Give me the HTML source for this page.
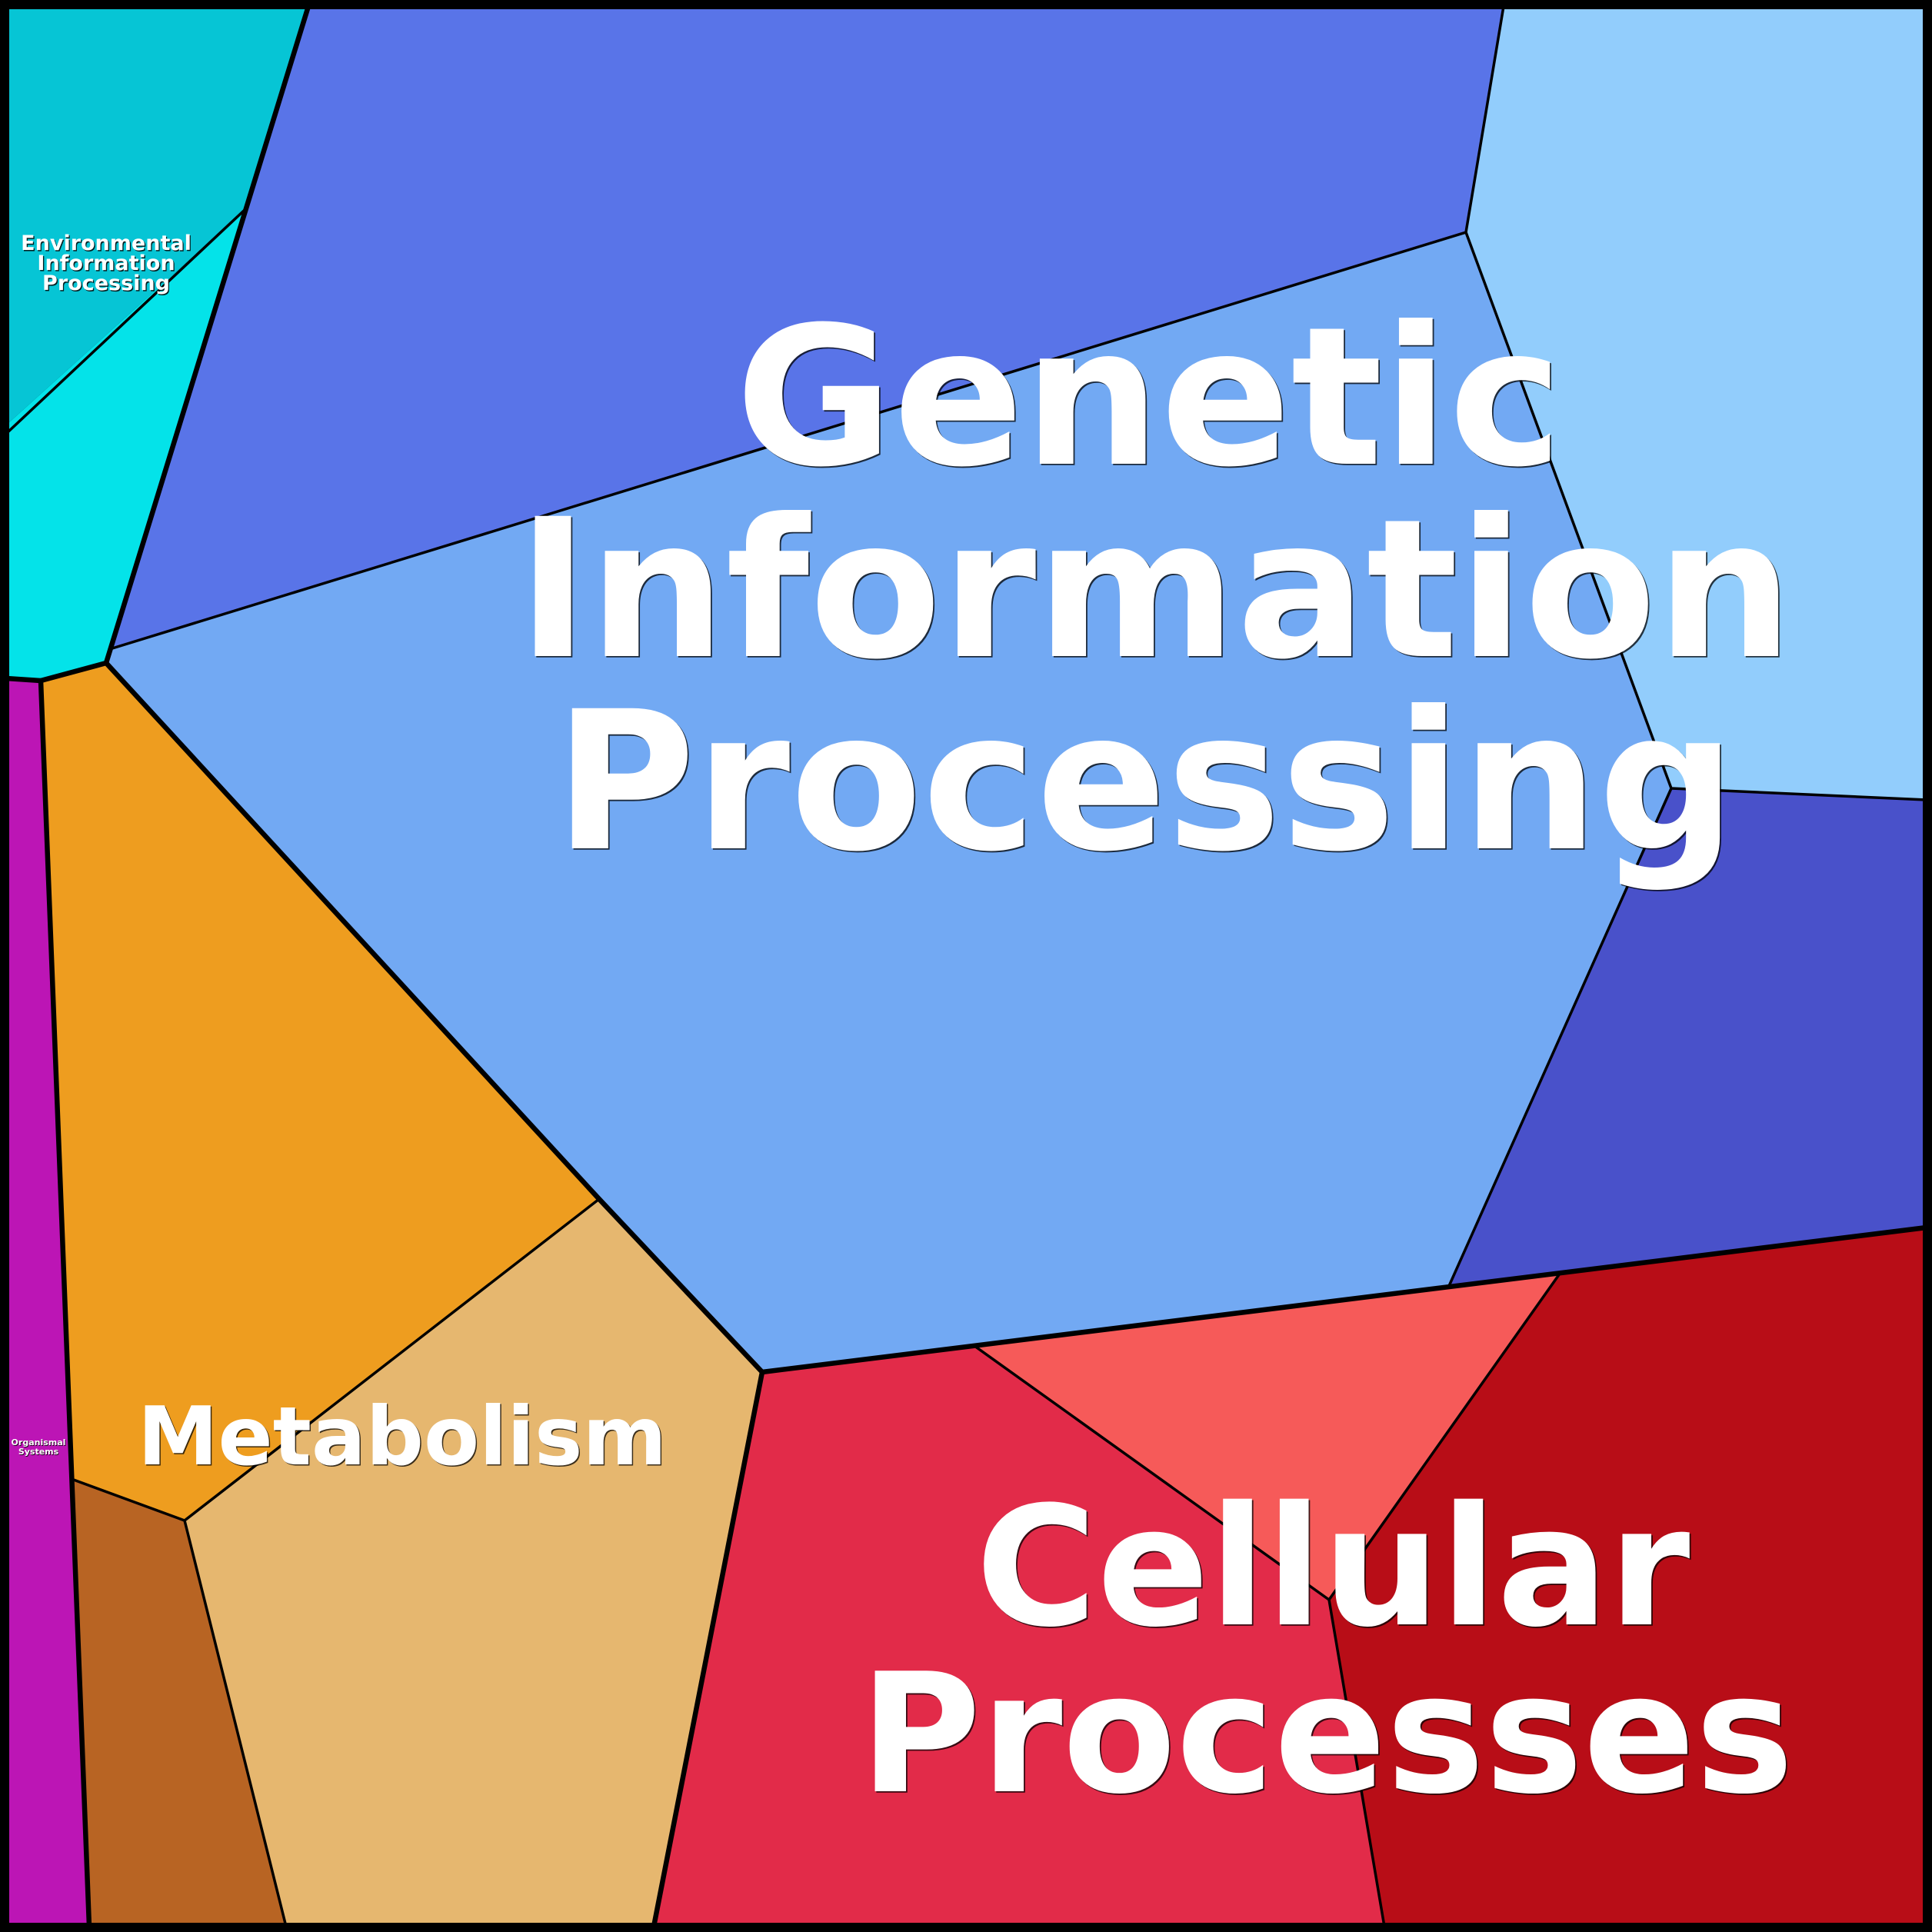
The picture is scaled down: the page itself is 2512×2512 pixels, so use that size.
<!DOCTYPE html>
<html>
<head>
<meta charset="utf-8">
<style>
  html, body { margin: 0; padding: 0; background: #000; }
  body { width: 2512px; height: 2512px; overflow: hidden; }
  svg { display: block; }
  text { font-family: "DejaVu Sans", "Liberation Sans", sans-serif; font-weight: bold; }
</style>
</head>
<body>
<svg width="2512" height="2512" viewBox="0 0 2512 2512" xmlns="http://www.w3.org/2000/svg">
  <!-- region fills -->
  <polygon points="0,0 401,0 318,273 0,560" fill="#06C5D5"/>
  <polygon points="0,560 318,273 138,862 53,885 0,882" fill="#04E3E9"/>
  <polygon points="401,0 1955,0 1906,302 146,843 138,862 318,273" fill="#5974E8"/>
  <polygon points="146,843 1906,302 2173,1025 1884,1672 991,1784 779,1559 138,862" fill="#72A9F3"/>
  <polygon points="1955,0 2512,0 2512,1040 2173,1025 1906,302" fill="#92CDFC"/>
  <polygon points="2173,1025 2512,1040 2512,1596 1884,1672" fill="#4951CA"/>
  <polygon points="53,885 138,862 779,1559 240,1977 93,1923" fill="#EE9D1F"/>
  <polygon points="779,1559 991,1784 850,2512 372,2512 240,1977" fill="#E6B76F"/>
  <polygon points="93,1923 240,1977 372,2512 116,2512" fill="#B86423"/>
  <polygon points="0,882 53,885 116,2512 0,2512" fill="#BC15B5"/>
  <polygon points="991,1784 1267,1750 1728,2080 1800,2512 850,2512" fill="#E22B49"/>
  <polygon points="1267,1750 2028,1656 1728,2080" fill="#F65A59"/>
  <polygon points="2028,1656 2512,1596 2512,2512 1800,2512 1728,2080" fill="#B80D17"/>

  <!-- thin borders -->
  <g stroke="#000" stroke-width="3.5" fill="none" stroke-linejoin="round" stroke-linecap="round">
    <polyline points="318,273 10,562"/>
    <polyline points="146,843 1906,302 1955,8"/>
    <polyline points="1906,302 2173,1025 2505,1040"/>
    <polyline points="2173,1025 1884,1672"/>
    <polyline points="779,1559 240,1977 93,1923"/>
    <polyline points="240,1977 372,2505"/>
    <polyline points="1267,1750 1728,2080 2028,1656"/>
    <polyline points="1728,2080 1800,2505"/>
  </g>

  <!-- thick borders -->
  <g stroke="#000" stroke-width="6.5" fill="none" stroke-linejoin="round" stroke-linecap="round">
    <polyline points="401,8 138,862 53,885 8,882"/>
    <polyline points="53,885 116,2505"/>
    <polyline points="138,862 779,1559 991,1784 2505,1596"/>
    <polyline points="991,1784 850,2505"/>
  </g>

  <!-- outer frame -->
  <rect x="6" y="6" width="2500" height="2500" fill="none" stroke="#000" stroke-width="12"/>

  <!-- Genetic Information Processing -->
  <g font-size="250" text-anchor="middle">
    <g fill="#000" opacity="0.75" transform="translate(1.8,1.8)">
      <text x="1494" y="603">Genetic</text>
      <text x="1502" y="853">Information</text>
      <text x="1489" y="1103">Processing</text>
    </g>
    <g fill="#fff">
      <text x="1494" y="603">Genetic</text>
      <text x="1502" y="853">Information</text>
      <text x="1489" y="1103">Processing</text>
    </g>
  </g>

  <!-- Cellular Processes -->
  <g font-size="215" text-anchor="middle">
    <g fill="#000" opacity="0.75" transform="translate(1.8,1.8)">
      <text x="1733" y="2112">Cellular</text>
      <text x="1725" y="2329">Processes</text>
    </g>
    <g fill="#fff">
      <text x="1733" y="2112">Cellular</text>
      <text x="1725" y="2329">Processes</text>
    </g>
  </g>

  <!-- Metabolism -->
  <g font-size="105" text-anchor="middle">
    <text x="524.5" y="1905.5" fill="#000" opacity="0.75">Metabolism</text>
    <text x="523" y="1904" fill="#fff">Metabolism</text>
  </g>

  <!-- Environmental Information Processing -->
  <g font-size="27" text-anchor="middle">
    <g fill="#000" opacity="0.85" transform="translate(1.3,1.3)">
      <text x="138" y="325">Environmental</text>
      <text x="138" y="351">Information</text>
      <text x="138" y="377">Processing</text>
    </g>
    <g fill="#fff">
      <text x="138" y="325">Environmental</text>
      <text x="138" y="351">Information</text>
      <text x="138" y="377">Processing</text>
    </g>
  </g>

  <!-- Organismal Systems -->
  <g font-size="11" text-anchor="middle">
    <g fill="#000" opacity="0.85" transform="translate(0.8,0.8)">
      <text x="50" y="1879">Organismal</text>
      <text x="50" y="1891">Systems</text>
    </g>
    <g fill="#fff">
      <text x="50" y="1879">Organismal</text>
      <text x="50" y="1891">Systems</text>
    </g>
  </g>
</svg>
</body>
</html>
